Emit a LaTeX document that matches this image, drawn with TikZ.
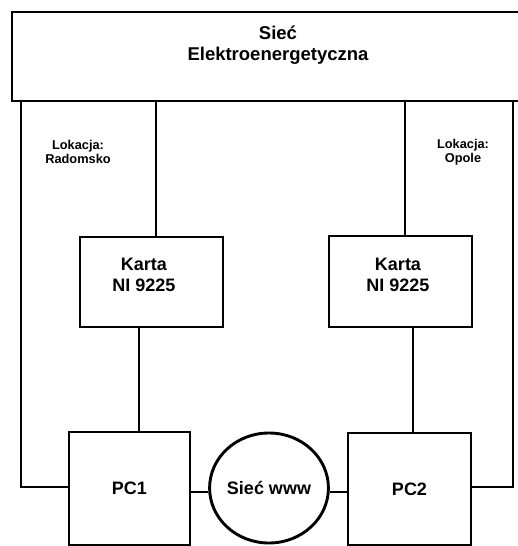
\documentclass[tikz,border=0pt]{standalone}
\usepackage{fontspec}
\setmainfont{Liberation Sans}
\usetikzlibrary{shapes.geometric}
\begin{document}
\begin{tikzpicture}[x=1pt,y=-1pt,line width=2.9pt,
  box/.style={draw,rectangle,inner sep=0pt,align=center,font=\fontsize{18}{21}\selectfont\bfseries},
  lbl/.style={inner sep=0pt,align=center,font=\fontsize{18.5}{21}\selectfont\bfseries},
  loc/.style={inner sep=0pt,align=center,font=\fontsize{12.8}{14.5}\selectfont\bfseries}]
\useasboundingbox (0,0) rectangle (518,546);
% top box (right edge runs past the picture)
\node[box,minimum width=518pt,minimum height=89pt] (grid) at (271,56.5) {};
\node[lbl] (gridtext) at (278,45.5) {Sieć\\Elektroenergetyczna};
% location labels
\node[loc] (locA) at (78,152) {Lokacja:\\Radomsko};
\node[loc] (locB) at (463,152) {Lokacja:\\Opole};
% cards
\node[box,minimum width=143pt,minimum height=90pt] (karta1) at (151.5,282) {};
\node[lbl,font=\fontsize{18}{21}\selectfont\bfseries] (karta1text) at (144,274.5) {Karta\\NI 9225};
\node[box,minimum width=143pt,minimum height=91pt] (karta2) at (400.5,281.5) {};
\node[lbl,font=\fontsize{18}{21}\selectfont\bfseries] (karta2text) at (398,274.5) {Karta\\NI 9225};
% PCs
\node[box,minimum width=121pt,minimum height=113pt] (pc1) at (129.5,488.5) {PC1};
\node[box,minimum width=123pt,minimum height=112pt] (pc2) at (409.5,489) {PC2};
% internet
\node[draw,ellipse,inner sep=0pt,minimum width=118pt,minimum height=110pt,font=\fontsize{18}{21}\selectfont\bfseries] (www) at (269,488) {Sieć www};
% x positions of connectors
\coordinate (xL) at (21,0);
\coordinate (xA) at (156,0);
\coordinate (xA2) at (139,0);
\coordinate (xB) at (405,0);
\coordinate (xB2) at (413,0);
\coordinate (xR) at (513,0);
\coordinate (yLow) at (0,487);
\coordinate (yNet) at (0,492);
% connectors
\draw (grid.south -| xA) -- (karta1.north -| xA);
\draw (grid.south -| xB) -- (karta2.north -| xB);
\draw (karta1.south -| xA2) -- (pc1.north -| xA2);
\draw (karta2.south -| xB2) -- (pc2.north -| xB2);
\draw (grid.south -| xL) -- (xL |- yLow) -- (pc1.west |- yLow);
\draw (grid.south -| xR) -- (xR |- yLow) -- (pc2.east |- yLow);
\draw (pc1.east |- yNet) -- (www.west |- yNet);
\draw (www.east |- yNet) -- (pc2.west |- yNet);
\end{tikzpicture}
\end{document}
